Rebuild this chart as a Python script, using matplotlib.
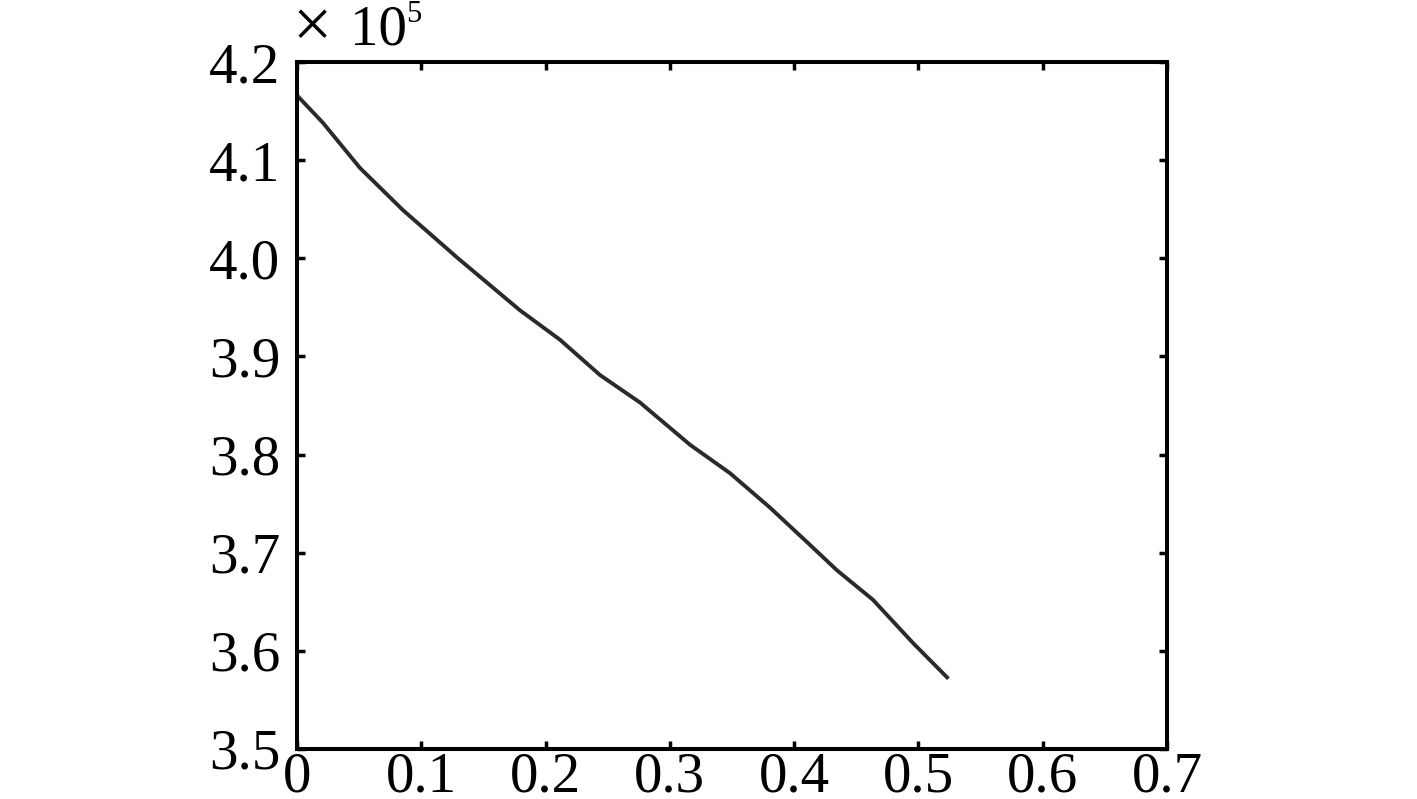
import matplotlib
matplotlib.use("Agg")
import matplotlib.pyplot as plt

# data (values in units of 1e5)
x = [0.0, 0.0209, 0.0507, 0.0853, 0.1295, 0.1794, 0.2116, 0.2438, 0.2760,
     0.3162, 0.3484, 0.3805, 0.4127, 0.4345, 0.4634, 0.4956, 0.5230]
y = [4.166, 4.138, 4.092, 4.049, 4.000, 3.947, 3.917, 3.881, 3.853,
     3.810, 3.781, 3.746, 3.708, 3.682, 3.652, 3.608, 3.573]
xticks = [0, 0.1, 0.2, 0.3, 0.4, 0.5, 0.6, 0.7]
xticklabels = ["0", "0.1", "0.2", "0.3", "0.4", "0.5", "0.6", "0.7"]
yticks = [3.5, 3.6, 3.7, 3.8, 3.9, 4.0, 4.1, 4.2]
yticklabels = ["3.5", "3.6", "3.7", "3.8", "3.9", "4.0", "4.1", "4.2"]

plt.rcParams['font.family'] = ['Liberation Serif', 'DejaVu Serif']

fig = plt.figure(figsize=(14.17, 7.99), dpi=100)
ax = fig.add_axes([0.2096, 0.0626, 0.8236 - 0.2096, 0.9224 - 0.0626])
ax.plot(x, y, color='#2a2a2a', linewidth=2.8)
ax.set_xlim(0, 0.7)
ax.set_ylim(3.5, 4.2)
ax.set_xticks(xticks)
ax.set_xticklabels(xticklabels)
ax.set_yticks(yticks)
ax.set_yticklabels(yticklabels)
for s in ax.spines.values():
    s.set_linewidth(2.9)
    s.set_color('black')
ax.tick_params(direction='in', length=6, width=2.5, top=True, right=True,
               labelsize=41)
ax.tick_params(axis='y', pad=12)
ax.tick_params(axis='x', pad=2)
fig.text(0.2205, 0.962, "×", fontsize=50, ha='center', va='center')
fig.text(0.247, 0.962, "10", fontsize=41, ha='left', va='center')
fig.text(0.2865, 0.982, "5", fontsize=22, ha='left', va='center')
fig.savefig("out.png", dpi=100)
